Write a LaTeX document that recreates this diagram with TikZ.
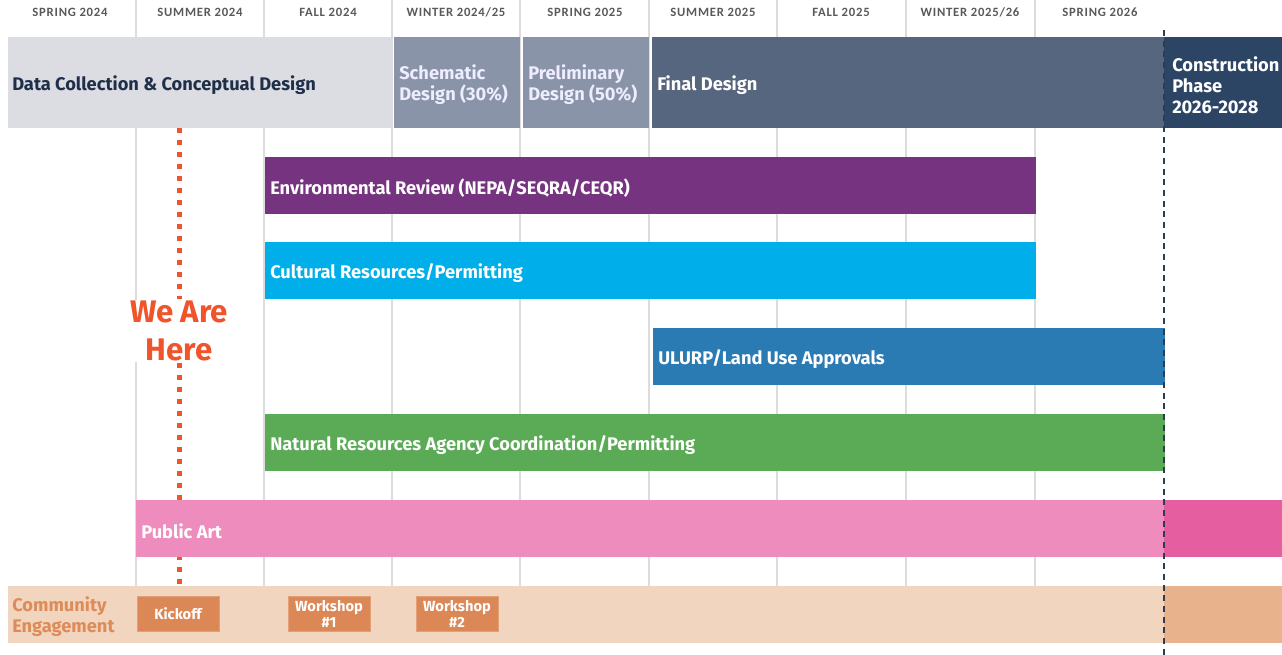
\documentclass[tikz,border=0pt]{standalone}
\usepackage{fontspec}
\setmainfont{Fira Sans}
\newfontfamily\hdrfont[LetterSpace=6]{Carlito}
\usetikzlibrary{positioning}

\definecolor{gridgray}{HTML}{DCDCDC}
\definecolor{hdrgray}{HTML}{595959}
\definecolor{dcgray}{HTML}{DCDDE2}
\definecolor{midslate}{HTML}{8A94A8}
\definecolor{slate}{HTML}{56667F}
\definecolor{navy}{HTML}{2D4565}
\definecolor{darknavy}{HTML}{1F2F4A}
\definecolor{envpurple}{HTML}{76337F}
\definecolor{cultblue}{HTML}{00AEEA}
\definecolor{ulurpblue}{HTML}{2A7AB4}
\definecolor{natgreen}{HTML}{5BAA55}
\definecolor{artpink}{HTML}{EE8CBD}
\definecolor{artpinkdk}{HTML}{E55EA0}
\definecolor{commlt}{HTML}{F1D5BE}
\definecolor{commdk}{HTML}{E8B28C}
\definecolor{commbox}{HTML}{DC8856}
\definecolor{commtxt}{HTML}{DE8B5A}
\definecolor{hereorange}{HTML}{F0542A}
\definecolor{cutline}{HTML}{2F3C50}

\tikzset{
  season/.style={font=\hdrfont\bfseries\fontsize{9.5}{11}\selectfont,text=hdrgray},
  bartext/.style={anchor=west,inner sep=0pt,text=white,align=left,yshift=-1.5pt,
    font=\bfseries\fontsize{13.7}{15.75}\selectfont},
  eventbox/.style={fill=commbox,draw=commbox!80!white,line width=0.75pt,text=white,
    minimum width=61.5pt,minimum height=26.5pt,inner sep=0pt,align=center,
    font=\bfseries\fontsize{11}{12}\selectfont},
}

\begin{document}
\begin{tikzpicture}[x=0.75pt,y=-0.75pt]
\useasboundingbox (0,0) rectangle (1282,655);

% grid
\foreach \gx in {136,264,392,520,649,777,906,1035}
  \draw[gridgray,line width=1.1pt] (\gx,0) -- (\gx,586);

% seasons
\foreach \sx/\slab [count=\i] in {70/{SPRING 2024},200/{SUMMER 2024},328/{FALL 2024},
    456/{WINTER 2024/25},585/{SPRING 2025},713/{SUMMER 2025},841/{FALL 2025},
    970/{WINTER 2025/26},1100/{SPRING 2026}}
  \node[season] (s\i) at (\sx,12) {\slab};

% we are here
\node[fill=white,text=hereorange,align=center,inner sep=1pt,
  font=\bfseries\fontsize{23.4}{28.5}\selectfont] (here) at (179,331) {We Are\\Here};
\coordinate (hereTop) at (179,128);
\coordinate (hereBot) at (179,586);
\draw[hereorange,line width=3.75pt,dash pattern=on 3.75pt off 5.25pt]
  (hereTop) -- (here.north) (here.south) -- (hereBot);

% design phases
\fill[dcgray] (8,37) rectangle (391,128);
\fill[midslate] (394,37) rectangle (520,128);
\fill[midslate] (523,37) rectangle (649,128);
\fill[slate] (652,37) rectangle (1164,128);
\fill[navy] (1164,37) rectangle (1282,128);
\node[bartext,text=darknavy] (dcd) at (12,83) {Data Collection \& Conceptual Design};
\node[bartext,text=white!93!blue] (sd) at (399,83) {Schematic\\Design (30\%)};
\node[bartext,text=white!93!blue] (pd) at (528,83) {Preliminary\\Design (50\%)};
\node[bartext] (fd) at (657,83) {Final Design};
\node[bartext] (cp) at (1172,83) {Construction\\Phase\\2026-2028};

% review tracks
\fill[envpurple] (265,157) rectangle (1036,214);
\fill[cultblue] (265,242) rectangle (1036,299);
\fill[ulurpblue] (653,328) rectangle (1165,385);
\fill[natgreen] (265,414) rectangle (1165,471);
\fill[artpink] (136,500) rectangle (1164,557);
\fill[artpinkdk] (1164,500) rectangle (1282,557);
\node[bartext] (env) at (270,186) {Environmental Review (NEPA/SEQRA/CEQR)};
\node[bartext] (cult) at (270,271) {Cultural Resources/Permitting};
\node[bartext] (ulurp) at (658,357) {ULURP/Land Use Approvals};
\node[bartext] (nat) at (270,443) {Natural Resources Agency Coordination/Permitting};
\node[bartext] (art) at (141,529) {Public Art};

% community engagement
\fill[commlt] (8,586) rectangle (1164,643);
\fill[commdk] (1164,586) rectangle (1282,643);
\node[bartext,text=commtxt] (comm) at (12,615) {Community\\Engagement};
\node[eventbox] (kick) at (178,614) {Kickoff};
\node[eventbox] (ws1) at (329,614) {Workshop\\\#1};
\node[eventbox] (ws2) at (457,614) {Workshop\\\#2};

% construction start
\coordinate (cutTop) at (1164,30);
\coordinate (cutBot) at (1164,655);
\draw[cutline,line width=1.1pt,dash pattern=on 4.5pt off 3.5pt] (cutTop) -- (cutBot);
\end{tikzpicture}
\end{document}
